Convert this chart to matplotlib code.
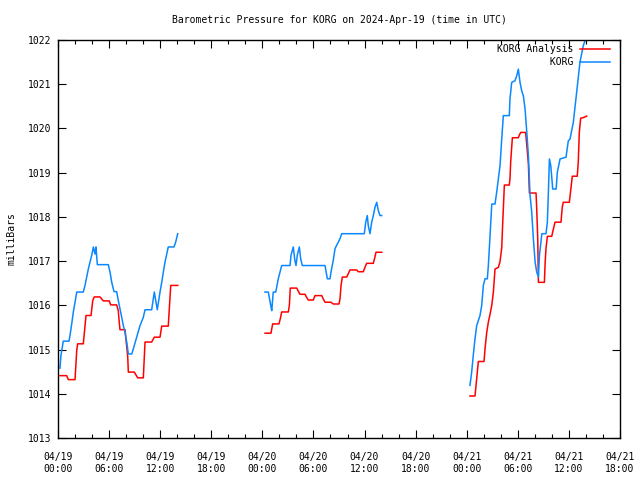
import matplotlib
matplotlib.use("Agg")
import matplotlib.pyplot as plt
from matplotlib.ticker import MultipleLocator

# hours since 04/19 00:00 UTC, pressure in mb
# --- KORG (observed) ---
obs1_h = [0.23, 0.35, 0.62, 1.29, 1.41, 1.61, 1.80, 2.00, 2.20, 2.97, 3.17, 3.37, 3.56, 3.76, 3.96,
          4.15, 4.35, 4.46, 4.62, 5.91, 6.11, 6.31, 6.58, 6.89, 7.08, 7.28, 7.48, 7.67, 7.87, 8.07,
          8.26, 8.66, 8.85, 9.24, 9.63, 10.02, 10.22, 11.00, 11.31, 11.66, 11.98, 12.18, 12.37,
          12.57, 12.77, 12.95, 13.62, 13.82, 14.06]
obs1_p = [1014.58, 1014.87, 1015.19, 1015.19, 1015.32, 1015.58, 1015.85, 1016.07, 1016.30, 1016.30,
          1016.45, 1016.64, 1016.82, 1016.98, 1017.13, 1017.32, 1017.16, 1017.32, 1016.92, 1016.92,
          1016.75, 1016.52, 1016.31, 1016.31, 1016.11, 1015.92, 1015.73, 1015.54, 1015.39, 1015.17,
          1014.90, 1014.90, 1015.02, 1015.28, 1015.54, 1015.73, 1015.90, 1015.90, 1016.30, 1015.90,
          1016.30, 1016.52, 1016.75, 1016.98, 1017.16, 1017.32, 1017.32, 1017.43, 1017.62]

obs2_h = [24.31, 24.70, 24.98, 25.10, 25.28, 25.57, 25.68, 25.87, 26.07, 26.27, 27.25, 27.36, 27.63,
          27.83, 27.95, 28.10, 28.34, 28.50, 28.69, 31.36, 31.63, 31.94, 32.06, 32.33, 32.53, 32.73,
          32.92, 33.12, 33.32, 35.97, 36.14, 36.32, 36.44, 36.64, 36.84, 37.03, 37.23, 37.43, 37.62,
          37.82, 38.02]
obs2_p = [1016.30, 1016.30, 1016.00, 1015.88, 1016.30, 1016.30, 1016.41, 1016.60, 1016.75, 1016.90,
          1016.90, 1017.13, 1017.32, 1017.00, 1016.90, 1017.13, 1017.32, 1017.05, 1016.90, 1016.90,
          1016.60, 1016.60, 1016.75, 1017.02, 1017.28, 1017.36, 1017.43, 1017.51, 1017.62, 1017.62,
          1017.88, 1018.03, 1017.80, 1017.62, 1017.88, 1018.03, 1018.22, 1018.33, 1018.14, 1018.03,
          1018.03]

obs3_h = [48.38, 48.58, 48.77, 48.97, 49.17, 49.56, 49.76, 49.95, 50.15, 50.42, 50.54, 50.74, 50.94,
          51.32, 51.52, 51.91, 52.11, 52.30, 53.00, 53.08, 53.28, 53.67, 53.87, 54.06, 54.26, 54.46,
          54.65, 54.85, 55.04, 55.24, 55.44, 55.63, 55.83, 56.03, 56.22, 56.42, 56.54, 56.82, 57.31,
          57.47, 57.59, 57.71, 57.87, 58.10, 58.50, 58.64, 58.96, 59.66, 59.93, 60.13, 60.52, 60.91,
          61.30, 61.69, 62.09]
obs3_p = [1014.19, 1014.49, 1014.87, 1015.24, 1015.54, 1015.77, 1016.00, 1016.45, 1016.60, 1016.60,
          1016.90, 1017.58, 1018.29, 1018.29, 1018.56, 1019.16, 1019.76, 1020.29, 1020.29, 1020.67,
          1021.04, 1021.08, 1021.19, 1021.34, 1021.04, 1020.85, 1020.74, 1020.44, 1019.95, 1019.39,
          1018.48, 1018.11, 1017.50, 1016.98, 1016.75, 1016.64, 1017.13, 1017.62, 1017.62, 1017.88,
          1018.56, 1019.31, 1019.16, 1018.63, 1018.63, 1019.01, 1019.31, 1019.35, 1019.72, 1019.76,
          1020.14, 1020.82, 1021.50, 1021.87, 1022.10]

# --- KORG Analysis ---
ana1_h = [0.23, 1.02, 1.21, 2.00, 2.20, 2.31, 2.97, 3.29, 3.88, 4.08, 4.26, 4.93, 5.32, 6.02, 6.19,
          6.89, 7.08, 7.20, 7.28, 7.87, 8.19, 8.26, 8.96, 9.36, 10.02, 10.22, 11.00, 11.31, 11.98,
          12.18, 12.95, 13.24, 14.06]
ana1_p = [1014.41, 1014.41, 1014.32, 1014.32, 1014.98, 1015.13, 1015.13, 1015.77, 1015.77, 1016.11,
          1016.19, 1016.19, 1016.10, 1016.10, 1016.01, 1016.01, 1015.88, 1015.60, 1015.45, 1015.45,
          1014.83, 1014.49, 1014.49, 1014.36, 1014.36, 1015.17, 1015.17, 1015.28, 1015.28, 1015.53,
          1015.53, 1016.45, 1016.45]

ana2_h = [24.31, 25.01, 25.21, 25.95, 26.11, 26.27, 27.05, 27.17, 27.28, 28.03, 28.22, 28.42, 29.01,
          29.20, 29.40, 29.98, 30.18, 30.97, 31.16, 31.36, 32.06, 32.33, 33.00, 33.12, 33.24, 33.39,
          33.91, 34.10, 34.29, 35.08, 35.27, 35.85, 36.05, 36.25, 37.03, 37.23, 37.34, 38.02]
ana2_p = [1015.37, 1015.37, 1015.58, 1015.58, 1015.70, 1015.85, 1015.85, 1016.00, 1016.39, 1016.39,
          1016.32, 1016.25, 1016.25, 1016.18, 1016.12, 1016.12, 1016.22, 1016.22, 1016.14, 1016.07,
          1016.07, 1016.03, 1016.03, 1016.15, 1016.45, 1016.64, 1016.64, 1016.72, 1016.80, 1016.80,
          1016.76, 1016.76, 1016.86, 1016.95, 1016.95, 1017.10, 1017.20, 1017.20]

ana3_h = [48.38, 48.97, 49.17, 49.36, 50.03, 50.15, 50.35, 50.54, 50.74, 50.94, 51.13, 51.32, 51.72,
          51.91, 52.11, 52.23, 52.42, 53.00, 53.08, 53.16, 53.36, 54.06, 54.18, 54.34, 54.92, 55.04,
          55.24, 55.32, 55.36, 56.14, 56.22, 56.34, 56.42, 57.12, 57.21, 57.31, 57.47, 57.98, 58.17,
          58.37, 59.07, 59.22, 59.34, 60.05, 60.21, 60.40, 60.98, 61.10, 61.22, 61.38, 61.77, 62.09]
ana3_p = [1013.95, 1013.95, 1014.34, 1014.73, 1014.73, 1015.02, 1015.39, 1015.62, 1015.80, 1016.00,
          1016.30, 1016.82, 1016.86, 1016.99, 1017.30, 1017.88, 1018.72, 1018.72, 1018.86, 1019.24,
          1019.79, 1019.79, 1019.85, 1019.91, 1019.91, 1019.65, 1019.20, 1018.78, 1018.54, 1018.54,
          1018.18, 1017.50, 1016.52, 1016.52, 1016.97, 1017.29, 1017.56, 1017.56, 1017.72, 1017.88,
          1017.88, 1018.22, 1018.33, 1018.33, 1018.60, 1018.92, 1018.92, 1019.24, 1019.91, 1020.23,
          1020.25, 1020.28]

tick_hours = list(range(0, 67, 6))
tick_labels = ["04/19\n00:00", "04/19\n06:00", "04/19\n12:00", "04/19\n18:00",
               "04/20\n00:00", "04/20\n06:00", "04/20\n12:00", "04/20\n18:00",
               "04/21\n00:00", "04/21\n06:00", "04/21\n12:00", "04/21\n18:00"]

RED = "#ff0000"
BLUE = "#0a88ff"
FONT = "DejaVu Sans Mono"
FS = 7

plt.rcParams["font.family"] = FONT
plt.rcParams["font.size"] = FS

fig, ax = plt.subplots(figsize=(6.4, 4.8), dpi=100)
fig.subplots_adjust(left=58 / 640, right=620 / 640, top=1 - 40 / 480, bottom=1 - 438 / 480)

for i, (h, p) in enumerate([(ana1_h, ana1_p), (ana2_h, ana2_p), (ana3_h, ana3_p)]):
    ax.plot(h, p, color=RED, lw=1.1, label="KORG Analysis" if i == 0 else None)
for i, (h, p) in enumerate([(obs1_h, obs1_p), (obs2_h, obs2_p), (obs3_h, obs3_p)]):
    ax.plot(h, p, color=BLUE, lw=1.1, label="         KORG" if i == 0 else None)

ax.set_xlim(0, 66)
ax.set_ylim(1013, 1022)
ax.set_xticks(tick_hours)
ax.set_xticklabels(tick_labels, linespacing=1.3)
ax.xaxis.set_minor_locator(MultipleLocator(2))
ax.yaxis.set_major_locator(MultipleLocator(1))
ax.yaxis.set_major_formatter(matplotlib.ticker.FormatStrFormatter("%d"))
ax.tick_params(which="both", direction="in", top=True, right=True, width=0.8)
ax.tick_params(which="major", length=6)
ax.tick_params(which="minor", length=3)
ax.tick_params(axis="x", which="major", pad=10)
ax.tick_params(axis="y", which="major", pad=5)
for s in ax.spines.values():
    s.set_linewidth(1.0)

ax.set_title("Barometric Pressure for KORG on 2024-Apr-19 (time in UTC)", fontsize=FS, pad=12)
ax.set_ylabel("milliBars", fontsize=FS, labelpad=8)

leg = ax.legend(loc="upper right", bbox_to_anchor=(0.985, 0.995), frameon=False,
                markerfirst=False, handlelength=3.0, handletextpad=0.7, borderaxespad=0.0,
                borderpad=0.2, labelspacing=0.35, fontsize=FS)

fig.savefig("out.png", dpi=100)
